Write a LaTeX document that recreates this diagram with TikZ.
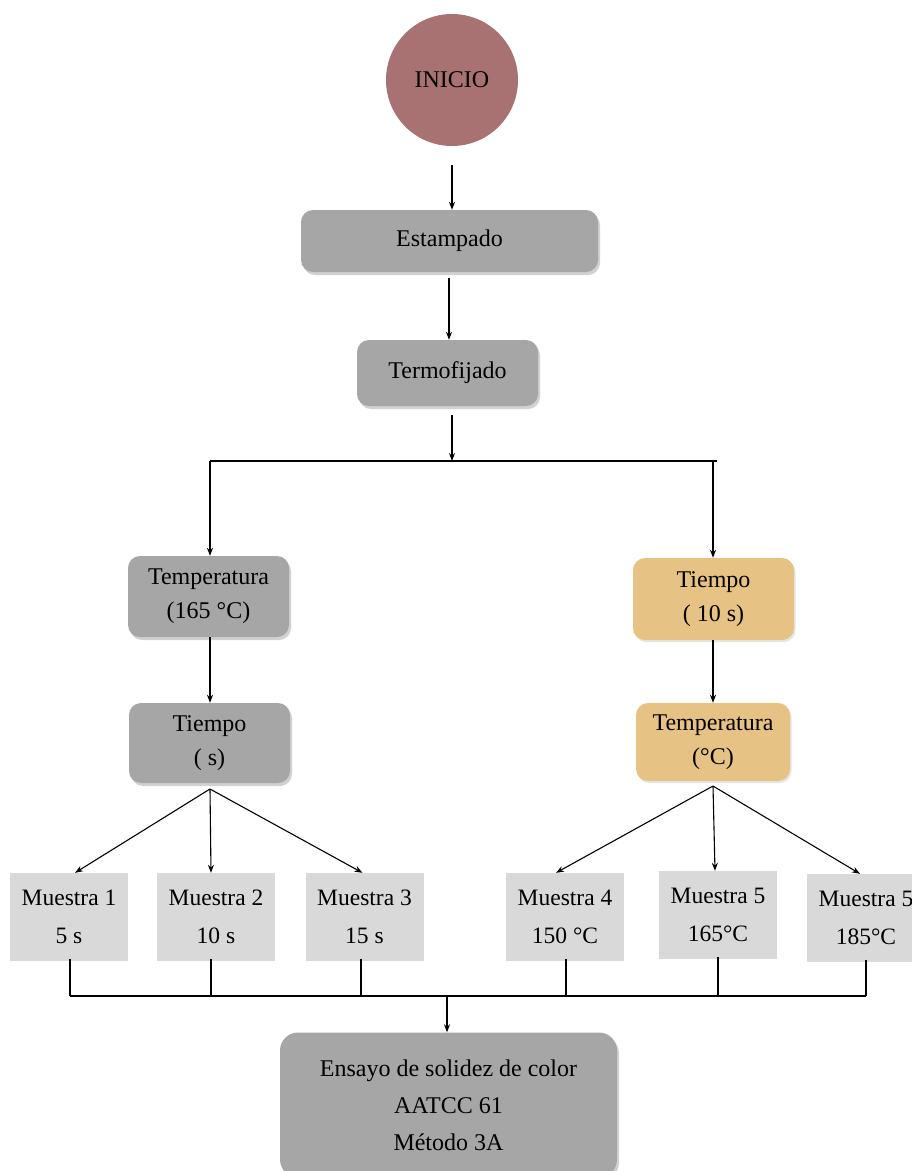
\documentclass[tikz,border=0pt]{standalone}
\usepackage{fontspec}
\setmainfont{Liberation Serif}
\usetikzlibrary{arrows.meta,shadows}
\definecolor{inicio}{HTML}{A97272}
\definecolor{grayfill}{HTML}{A6A6A6}
\definecolor{tanfill}{HTML}{E6C384}
\definecolor{samplefill}{HTML}{D9D9D9}
\begin{document}
\begin{tikzpicture}[x=1pt,y=-1pt,
  base/.style={inner sep=0pt, align=center, font=\fontsize{24}{34}\selectfont},
  proc/.style={base, rectangle, rounded corners=12pt, fill=grayfill,
     general shadow={fill=black!18, shadow xshift=2pt, shadow yshift=-3pt}},
  tanbox/.style={base, rectangle, rounded corners=12pt, fill=tanfill,
     general shadow={fill=black!10, shadow xshift=1.5pt, shadow yshift=-2pt}},
  sample/.style={base, rectangle, fill=samplefill, minimum width=118pt, minimum height=88pt,
     font=\fontsize{23.5}{38}\selectfont},
  arr/.style={-{Stealth[length=8pt,width=6pt]}, line width=1.1pt},
  ln/.style={line width=1.1pt}]
\useasboundingbox (0,0) rectangle (912,1171);
\fill[white] (0,0) rectangle (912,1171);

\node[base, circle, fill=inicio, minimum size=132pt] (ini) at (452,80) {INICIO};
\node[proc, minimum width=297pt, minimum height=62pt] (est) at (449.5,241) {Estampado};
\node[proc, minimum width=181pt, minimum height=66pt] (ter) at (447.5,373) {Termofijado};

\node[proc, minimum width=161pt, minimum height=81pt] (t1) at (208.5,596.5) {Temperatura\\(165 °C)};
\node[proc, minimum width=161pt, minimum height=80pt] (t2) at (209.5,743) {Tiempo\\( s)};
\node[tanbox, minimum width=161pt, minimum height=82pt] (r1) at (713.5,599) {Tiempo\\( 10 s)};
\node[tanbox, minimum width=154pt, minimum height=78pt] (r2) at (713,742) {Temperatura\\(°C)};

\node[sample] (m1) at (69,917) {Muestra 1\\5 s};
\node[sample] (m2) at (216,917) {Muestra 2\\10 s};
\node[sample] (m3) at (364.5,917) {Muestra 3\\15 s};
\node[sample] (m4) at (565,917) {Muestra 4\\150 °C};
\node[sample] (m5) at (718,915) {Muestra 5\\165°C};
\node[sample] (m6) at (866,918) {Muestra 5\\185°C};

\node[proc, minimum width=337pt, minimum height=145pt, rounded corners=18pt,
  font=\fontsize{24}{37}\selectfont] (ens) at (448.5,1105) {Ensayo de solidez de color\\AATCC 61\\Método 3A};

% coordinates
\coordinate (a0) at (452,165);
\coordinate (b0) at (449,278);
\coordinate (c0) at (452,415);
\coordinate (jc) at (452,461);
\coordinate (jl) at (210,461);
\coordinate (jr) at (717,461);
\coordinate (jrr) at (713,461);
\coordinate (sl) at (210,789);
\coordinate (sr) at (713,786);
\coordinate (bl) at (70,996);
\coordinate (br) at (866,996);
\coordinate (bc) at (447,996);

\draw[arr] (a0) -- (ini.south |- est.north);
\draw[arr] (b0) -- (b0 |- ter.north);
\draw[arr] (c0) -- (jc);
\draw[ln] (jl) -- (jr);
\draw[arr] (jl) -- (jl |- t1.north);
\draw[arr] (jrr) -- (jrr |- r1.north);
\draw[arr] (t1.south -| jl) -- (jl |- t2.north);
\draw[arr] (r1.south -| jrr) -- (jrr |- r2.north);

\draw[arr] (sl) -- ([xshift=6pt]m1.north);
\draw[arr] (sl) -- ([xshift=-5pt]m2.north);
\draw[arr] (sl) -- ([xshift=-2pt]m3.north);
\draw[arr] (sr) -- ([xshift=-9pt]m4.north);
\draw[arr] (sr) -- ([xshift=-3pt]m5.north);
\draw[arr] (sr) -- ([xshift=-6pt]m6.north);

\draw[ln] (bl) -- (br);
\draw[ln] ([yshift=2pt]m1.south -| bl) -- (bl);
\draw[ln] ([yshift=2pt]m2.south -| 211,0) -- (211,996);
\draw[ln] ([yshift=2pt]m3.south -| 361,0) -- (361,996);
\draw[ln] ([yshift=2pt]m4.south -| 566,0) -- (566,996);
\draw[ln] ([yshift=2pt]m5.south) -- (m5.south |- bl);
\draw[ln] ([yshift=2pt]m6.south) -- (br);
\draw[arr] (bc) -- (bc |- ens.north);
\end{tikzpicture}
\end{document}
